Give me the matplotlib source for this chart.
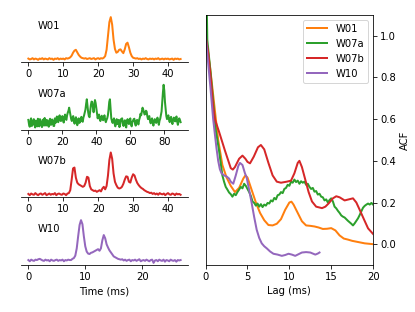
import numpy as np
import matplotlib
matplotlib.use("Agg")
import matplotlib.pyplot as plt

# pulse profiles (normalised to peak), sampled on a regular grid
names = ["W01", "W07a", "W07b", "W10"]
colors = ["tab:orange", "tab:green", "tab:red", "tab:purple"]

dt_w01 = 0.4
prof_w01 = [
    0.01, -0.01, 0.00, 0.02, -0.01, 0.01, 0.00, -0.02, 0.01, 0.00,
    0.02, -0.01, 0.01, 0.00, -0.01, 0.02, 0.00, 0.01, -0.02, 0.01,
    0.00, 0.02, -0.01, 0.01, 0.00, 0.01, -0.01, 0.02, 0.01, 0.02,
    0.04, 0.08, 0.15, 0.20, 0.22, 0.16, 0.10, 0.06, 0.03, 0.02,
    0.01, 0.02, 0.00, 0.01, 0.02, 0.00, 0.01, 0.02, -0.01, 0.01,
    0.02, 0.00, 0.02, 0.01, 0.03, 0.07, 0.22, 0.55, 0.88, 1.00,
    0.82, 0.46, 0.24, 0.15, 0.17, 0.22, 0.23, 0.18, 0.14, 0.23,
    0.36, 0.39, 0.28, 0.15, 0.07, 0.03, 0.02, 0.01, 0.02, 0.00,
    0.01, -0.01, 0.01, 0.00, 0.02, 0.00, -0.01, 0.01, 0.00, 0.01,
    -0.01, 0.01, 0.00, 0.02, -0.01, 0.00, 0.01, -0.01, 0.01, 0.00,
    0.01, -0.01, 0.00, 0.01, -0.02, 0.01, 0.00, 0.01, -0.01, 0.00,
]

dt_w07a = 0.4
prof_w07a = [
    0.08, -0.04, -0.10, 0.03, 0.12, -0.08, -0.06, 0.05, 0.10, -0.03,
    -0.12, 0.06, 0.05, -0.09, 0.11, 0.02, -0.09, 0.10, 0.07, -0.05,
    -0.11, 0.04, 0.09, -0.07, 0.13, 0.01, -0.07, 0.08, 0.06, -0.06,
    -0.10, 0.07, 0.11, -0.05, -0.04, 0.09, 0.06, -0.08, -0.08, 0.12,
    0.00, 0.10, 0.17, 0.04, 0.02, 0.15, 0.20, 0.06, 0.05, 0.14,
    0.18, 0.08, 0.01, 0.15, 0.22, 0.10, 0.08, 0.20, 0.27, 0.32,
    0.40, 0.30, 0.20, 0.10, 0.05, 0.14, 0.18, 0.06, -0.02, 0.10,
    0.15, 0.04, -0.06, 0.08, 0.12, 0.00, 0.02, 0.12, 0.16, 0.05,
    0.03, 0.14, 0.20, 0.28, 0.35, 0.50, 0.62, 0.45, 0.28, 0.18,
    0.15, 0.32, 0.47, 0.56, 0.55, 0.40, 0.28, 0.45, 0.60, 0.52,
    0.38, 0.22, 0.12, 0.20, 0.22, 0.10, 0.05, 0.14, 0.19, 0.10,
    0.07, 0.15, 0.20, 0.08, 0.02, 0.08, 0.12, 0.20, 0.35, 0.55,
    0.62, 0.35, 0.12, 0.05, 0.00, 0.08, 0.12, -0.02, -0.09, 0.04,
    0.10, -0.03, -0.02, 0.08, -0.11, -0.04, 0.09, 0.11, 0.12, -0.02,
    -0.08, 0.03, 0.07, -0.06, -0.12, 0.05, 0.10, 0.02, -0.03, 0.07,
    0.12, -0.03, -0.09, 0.02, 0.06, 0.10, 0.11, -0.02, -0.07, 0.05,
    0.08, 0.00, -0.04, 0.08, 0.14, 0.24, 0.20, 0.30, 0.40, 0.35,
    0.28, 0.22, 0.24, 0.32, 0.30, 0.18, 0.10, 0.16, 0.18, 0.05,
    -0.01, 0.08, 0.12, 0.00, -0.07, 0.05, 0.10, 0.04, 0.00, 0.09,
    0.14, 0.03, -0.05, 0.06, 0.11, 0.20, 0.30, 0.55, 0.80, 1.00,
    0.85, 0.55, 0.35, 0.18, 0.10, 0.15, 0.20, 0.08, 0.02, 0.12,
    0.16, 0.04, -0.03, 0.08, 0.14, 0.10, 0.04, 0.13, 0.17, 0.03,
    -0.05, 0.06, 0.12, 0.08, 0.02,
]

dt_w07b = 0.4
prof_w07b = [
    0.01, -0.02, 0.02, 0.00, -0.01, 0.03, 0.00, -0.02, 0.01, 0.02,
    -0.01, 0.01, 0.03, -0.02, 0.00, 0.02, -0.01, 0.01, 0.00, 0.03,
    -0.02, 0.01, 0.02, 0.00, -0.01, 0.02, 0.01, -0.02, 0.02, 0.03,
    0.10, 0.35, 0.62, 0.64, 0.40, 0.28, 0.24, 0.22, 0.20, 0.18,
    0.20, 0.28, 0.42, 0.40, 0.20, 0.12, 0.10, 0.08, 0.09, 0.06,
    0.08, 0.10, 0.07, 0.14, 0.18, 0.12, 0.20, 0.45, 0.82, 1.00,
    0.85, 0.50, 0.30, 0.22, 0.16, 0.14, 0.15, 0.18, 0.25, 0.35,
    0.43, 0.42, 0.30, 0.28, 0.40, 0.48, 0.45, 0.35, 0.27, 0.22,
    0.18, 0.15, 0.13, 0.10, 0.08, 0.06, 0.05, 0.03, 0.04, 0.01,
    0.03, 0.00, 0.02, -0.01, 0.03, 0.01, 0.00, 0.02, -0.02, 0.01,
    0.03, 0.00, -0.01, 0.02, 0.01, -0.02, 0.02, 0.00, 0.01, -0.01,
]

dt_w10 = 0.25
prof_w10 = [
    0.01, -0.02, 0.02, 0.00, -0.01, 0.02, 0.01, 0.03, 0.04, 0.02,
    0.00, -0.01, 0.02, 0.00, 0.01, -0.02, 0.02, 0.00, -0.01, 0.01,
    0.02, -0.01, 0.01, 0.00, 0.02, -0.02, 0.01, 0.00, 0.02, 0.01,
    0.01, 0.04, 0.06, 0.12, 0.30, 0.60, 0.88, 1.00, 0.90, 0.60,
    0.35, 0.22, 0.17, 0.16, 0.19, 0.20, 0.22, 0.24, 0.26, 0.28,
    0.24, 0.30, 0.50, 0.63, 0.55, 0.40, 0.32, 0.25, 0.20, 0.15,
    0.10, 0.08, 0.06, 0.04, 0.03, 0.02, 0.03, 0.00, 0.02, -0.01,
    0.01, 0.02, -0.02, 0.01, 0.00, 0.02, -0.01, 0.01, 0.03, -0.02,
    0.00, 0.01, -0.01, 0.02, 0.00, -0.02, 0.01, 0.02, -0.06, 0.00,
    0.01, -0.02, 0.02, 0.00, -0.01, 0.02, -0.03, 0.01, 0.00, -0.02,
    0.02, 0.00, -0.01, 0.01, -0.03, 0.01, 0.00, 0.01,
]

# autocorrelation functions
lag_w01 = [0, 0.5, 1.0, 1.5, 2.0, 2.5, 3.0, 3.5, 4.0, 4.5, 4.75, 5.0, 5.5, 6.0,
           6.5, 7.0, 7.5, 8.0, 8.5, 9.0, 9.5, 10.0, 10.25, 10.5, 11.0, 11.5,
           12.0, 12.5, 13.0, 13.5, 14.0, 14.5, 15.0, 15.5, 16.0, 16.5, 17.0,
           17.5, 18.0, 18.5, 19.0, 19.5, 20.0]
acf_w01 = [1.0, 0.86, 0.68, 0.50, 0.38, 0.32, 0.28, 0.25, 0.27, 0.315, 0.33,
           0.32, 0.26, 0.20, 0.15, 0.115, 0.092, 0.09, 0.098, 0.12, 0.165, 0.20,
           0.204, 0.19, 0.15, 0.11, 0.09, 0.088, 0.085, 0.08, 0.073, 0.074,
           0.077, 0.066, 0.042, 0.027, 0.022, 0.016, 0.012, 0.008, 0.004,
           0.002, 0.0]

lag_w07a = [0.0, 0.2, 0.4, 0.6, 0.8, 1.0, 1.2, 1.4, 1.6, 1.8, 2.0, 2.2, 2.4,
            2.6, 2.8, 3.0, 3.2, 3.4, 3.6, 3.8, 4.0, 4.2, 4.4, 4.6, 4.8, 5.0,
            5.2, 5.4, 5.6, 5.8, 6.0, 6.2, 6.4, 6.6, 6.8, 7.0, 7.2, 7.4, 7.6,
            7.8, 8.0, 8.2, 8.4, 8.6, 8.8, 9.0, 9.2, 9.4, 9.6, 9.8, 10.0, 10.2,
            10.4, 10.6, 10.8, 11.0, 11.2, 11.4, 11.6, 11.8, 12.0, 12.2, 12.4,
            12.6, 12.8, 13.0, 13.2, 13.4, 13.6, 13.8, 14.0, 14.2, 14.4, 14.6,
            14.8, 15.0, 15.2, 15.4, 15.6, 15.8, 16.0, 16.2, 16.4, 16.6, 16.8,
            17.0, 17.2, 17.4, 17.6, 17.8, 18.0, 18.2, 18.4, 18.6, 18.8, 19.0,
            19.2, 19.4, 19.6, 19.8, 20.0]
acf_w07a = [1.50, 0.98, 0.90, 0.82, 0.73, 0.64, 0.55, 0.50, 0.45, 0.39, 0.33,
            0.30, 0.275, 0.262, 0.248, 0.24, 0.228, 0.242, 0.235, 0.25, 0.262,
            0.275, 0.268, 0.29, 0.28, 0.265, 0.25, 0.232, 0.205, 0.198, 0.185,
            0.195, 0.18, 0.192, 0.178, 0.19, 0.185, 0.198, 0.195, 0.21, 0.205,
            0.222, 0.215, 0.235, 0.238, 0.25, 0.245, 0.265, 0.27, 0.285, 0.28,
            0.30, 0.295, 0.31, 0.298, 0.305, 0.29, 0.302, 0.295, 0.30, 0.285,
            0.29, 0.275, 0.265, 0.27, 0.252, 0.255, 0.238, 0.242, 0.228, 0.225,
            0.21, 0.215, 0.20, 0.212, 0.22, 0.205, 0.18, 0.172, 0.16, 0.15,
            0.138, 0.132, 0.128, 0.12, 0.112, 0.105, 0.098, 0.09, 0.10, 0.112,
            0.124, 0.14, 0.158, 0.175, 0.184, 0.19, 0.195, 0.19, 0.198, 0.19]

lag_w07b = [0, 0.3, 0.6, 0.9, 1.1, 1.6, 2.3, 3.0, 3.25, 3.5, 4.0, 4.4, 4.75,
            5.0, 5.3, 5.75, 6.25, 6.6, 7.0, 7.5, 8.0, 8.5, 9.0, 9.7, 10.2,
            10.6, 11.0, 11.2, 11.5, 11.9, 12.3, 12.7, 13.2, 13.9, 14.3, 14.7,
            15.2, 15.6, 16.0, 16.6, 17.1, 17.6, 18.0, 18.4, 18.9, 19.4, 20.0]
acf_w07b = [1.0, 0.92, 0.80, 0.66, 0.60, 0.54, 0.45, 0.365, 0.358, 0.37, 0.41,
            0.425, 0.41, 0.395, 0.388, 0.42, 0.465, 0.476, 0.455, 0.39, 0.33,
            0.30, 0.295, 0.30, 0.305, 0.34, 0.39, 0.40, 0.37, 0.31, 0.25, 0.205,
            0.18, 0.173, 0.18, 0.196, 0.22, 0.23, 0.225, 0.21, 0.215, 0.22, 0.20,
            0.165, 0.12, 0.076, 0.049]

lag_w10 = [0, 0.3, 0.6, 0.9, 1.1, 1.3, 1.5, 1.7, 1.9, 2.2, 2.5, 2.8, 3.0, 3.3,
           3.6, 3.9, 4.1, 4.4, 4.7, 4.9, 5.2, 5.5, 5.8, 6.1, 6.4, 6.7, 7.0, 7.3,
           7.7, 8.1, 8.6, 9.1, 9.5, 9.9, 10.3, 10.7, 11.1, 11.5, 12.0, 12.5,
           12.8, 13.1, 13.4, 13.6]
acf_w10 = [1.0, 0.87, 0.74, 0.60, 0.53, 0.46, 0.40, 0.36, 0.34, 0.33, 0.325,
           0.315, 0.30, 0.29, 0.33, 0.375, 0.39, 0.38, 0.34, 0.32, 0.26, 0.197,
           0.13, 0.069, 0.03, 0.004, -0.01, -0.02, -0.035, -0.046, -0.05,
           -0.056, -0.052, -0.046, -0.05, -0.056, -0.048, -0.04, -0.038, -0.04,
           -0.045, -0.05, -0.045, -0.04]

profiles = [(dt_w01, prof_w01), (dt_w07a, prof_w07a), (dt_w07b, prof_w07b), (dt_w10, prof_w10)]
acfs = [(lag_w01, acf_w01), (lag_w07a, acf_w07a), (lag_w07b, acf_w07b), (lag_w10, acf_w10)]

plt.rcParams.update({"font.size": 10, "lines.linewidth": 2})
fig = plt.figure(figsize=(415 / 72, 312 / 72), dpi=72)
gs = fig.add_gridspec(4, 2, left=0.05, right=0.899, bottom=0.1506, top=0.952,
                      hspace=0.44, wspace=0.104)

for i, (name, color, (dt, prof)) in enumerate(zip(names, colors, profiles)):
    ax = fig.add_subplot(gs[i, 0])
    t = np.arange(len(prof)) * dt
    ax.plot(t, prof, color=color)
    ax.text(0.1, 0.7, name, transform=ax.transAxes)
    for side in ["left", "right", "top"]:
        ax.spines[side].set_visible(False)
    ax.set_yticks([])
    if i == 3:
        ax.set_xlabel("Time (ms)")

ax = fig.add_subplot(gs[:, 1])
for name, color, (lag, acf) in zip(names, colors, acfs):
    ax.plot(lag, acf, color=color, label=name)
ax.set_xlim(0, 20)
ax.set_ylim(-0.1, 1.1)
ax.set_xticks([0, 5, 10, 15, 20])
ax.set_yticks([0.0, 0.2, 0.4, 0.6, 0.8, 1.0])
ax.yaxis.tick_right()
ax.yaxis.set_label_position("right")
ax.set_xlabel("Lag (ms)")
ax.set_ylabel("ACF")
ax.legend(loc="upper right")

fig.savefig("out.png", dpi=72)
